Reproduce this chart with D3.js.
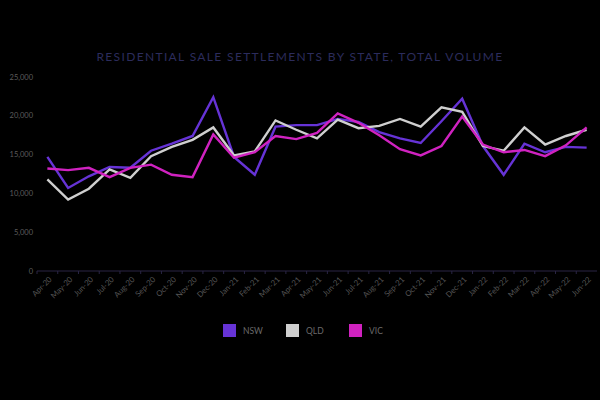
<!DOCTYPE html>
<html>
<head>
<meta charset="utf-8">
<script src="https://cdn.jsdelivr.net/npm/d3@7"></script>
<style>
  html, body { margin: 0; padding: 0; background: #000; }
  svg { display: block; }
</style>
</head>
<body>
<div id="chart"></div>
<script>
// Data
const months = ["Apr-20", "May-20", "Jun-20", "Jul-20", "Aug-20", "Sep-20", "Oct-20", "Nov-20", "Dec-20",
  "Jan-21", "Feb-21", "Mar-21", "Apr-21", "May-21", "Jun-21", "Jul-21", "Aug-21", "Sep-21", "Oct-21",
  "Nov-21", "Dec-21", "Jan-22", "Feb-22", "Mar-22", "Apr-22", "May-22", "Jun-22"];
const nsw = [14700, 10700, 12200, 13400, 13300, 15500, 16400, 17400, 22400,
  14700, 12400, 18600, 18800, 18800, 19600, 19200, 17900, 17100, 16500,
  19300, 22200, 16100, 12400, 16400, 15300, 16000, 15900];
const qld = [11800, 9200, 10600, 13100, 12000, 14800, 16000, 16900, 18500,
  14900, 15400, 19400, 18200, 17100, 19500, 18400, 18700, 19600, 18600,
  21100, 20500, 16100, 15500, 18500, 16300, 17400, 18200];
const vic = [13200, 13000, 13300, 12100, 13300, 13700, 12400, 12100, 17600,
  14600, 15300, 17400, 17000, 17800, 20300, 19100, 17500, 15700, 14900,
  16100, 19900, 16300, 15300, 15600, 14800, 16200, 18500];
const yTicks = [0, 5000, 10000, 15000, 20000, 25000];
const seriesNames = ["NSW", "QLD", "VIC"];
const seriesColors = ["#6633d6", "#cfcfcf", "#d022c0"];

const width = 600, height = 400;
const margin = { top: 77, right: 3, bottom: 129, left: 37 };

const svg = d3.select("#chart").append("svg")
  .attr("width", width)
  .attr("height", height)
  .style("background", "#000");

svg.append("text")
  .attr("x", 300)
  .attr("y", 61)
  .attr("text-anchor", "middle")
  .attr("font-family", "Lato, sans-serif")
  .attr("font-size", 12)
  .attr("letter-spacing", 1.35)
  .attr("fill", "#2c2c5c")
  .text("RESIDENTIAL SALE SETTLEMENTS BY STATE, TOTAL VOLUME");

let x = d3.scaleBand()
  .domain(months)
  .range([margin.left, width - margin.right]);

let y = d3.scaleLinear()
  .domain([0, 25000])
  .range([height - margin.bottom, margin.top]);

// y labels, no axis line
svg.append("g")
  .selectAll("text")
  .data(yTicks)
  .join("text")
  .attr("x", 33)
  .attr("y", d => y(d))
  .attr("dy", "0.35em")
  .attr("text-anchor", "end")
  .attr("font-family", "Lato, sans-serif")
  .attr("font-size", 7.5)
  .attr("fill", "#5c5c5c")
  .text(d => d3.format(",")(d));

// x axis line with ticks at band edges
let xAxis = svg.append("g")
  .attr("transform", `translate(0,${y(0)})`);

xAxis.append("line")
  .attr("x1", margin.left)
  .attr("x2", width - margin.right)
  .attr("stroke", "#2a2545")
  .attr("stroke-width", 1);

xAxis.selectAll("line.tick")
  .data(months)
  .join("line")
  .attr("class", "tick")
  .attr("x1", d => x(d))
  .attr("x2", d => x(d))
  .attr("y2", 3)
  .attr("stroke", "#2a2545");

xAxis.selectAll("text")
  .data(months)
  .join("text")
  .attr("transform", d => `translate(${x(d) + x.bandwidth() / 2 + 3},7) rotate(-45)`)
  .attr("text-anchor", "end")
  .attr("dy", "0.35em")
  .attr("font-family", "Lato, sans-serif")
  .attr("font-size", 7.8)
  .attr("fill", "#555")
  .text(d => d);

const line = d3.line()
  .x((d, i) => x(months[i]) + x.bandwidth() / 2)
  .y(d => y(d));

[nsw, qld, vic].forEach((values, k) => {
  svg.append("path")
    .datum(values)
    .attr("fill", "none")
    .attr("stroke", seriesColors[k])
    .attr("stroke-width", 2.4)
    .attr("stroke-linejoin", "miter")
    .attr("d", line);
});

// legend
const legendX = [223, 286, 349];
const legend = svg.append("g")
  .selectAll("g")
  .data(seriesNames)
  .join("g")
  .attr("transform", (d, i) => `translate(${legendX[i]},324)`);

legend.append("rect")
  .attr("width", 13)
  .attr("height", 13)
  .attr("fill", (d, i) => seriesColors[i]);

legend.append("text")
  .attr("x", 20)
  .attr("y", 7)
  .attr("dy", "0.35em")
  .attr("font-family", "Lato, sans-serif")
  .attr("font-size", 8.5)
  .attr("fill", "#6a6a6a")
  .text(d => d);
</script>
</body>
</html>
